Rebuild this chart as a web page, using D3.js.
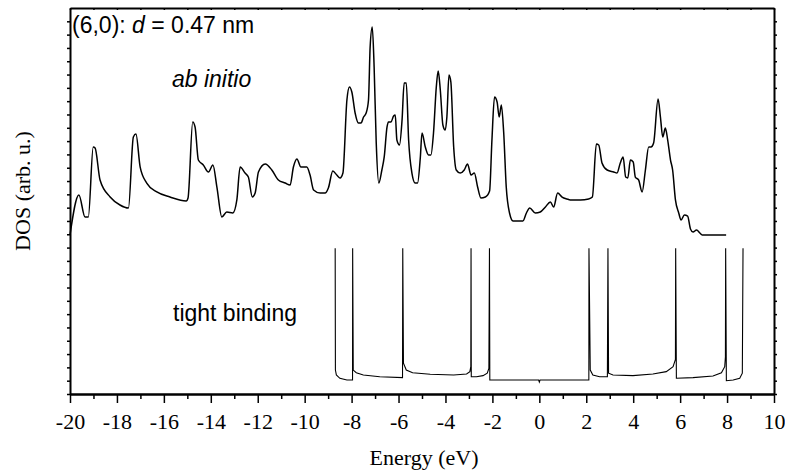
<!DOCTYPE html>
<html>
<head>
<meta charset="utf-8">
<script src="https://cdn.jsdelivr.net/npm/d3@7"></script>
<style>
  html, body { margin: 0; padding: 0; background: #fff; }
  svg { display: block; }
</style>
</head>
<body>
<svg id="chart" width="785" height="474"></svg>
<script>
// Ab initio DOS of the (6,0) tube (arbitrary units, shifted up)
const energyAb = [-20.00,-19.62,-19.36,-19.22,-19.01,-18.93,-18.72,-18.29,-17.87,-17.51,
  -17.30,-17.19,-17.01,-16.73,-16.30,-15.74,-15.05,-14.97,-14.77,-14.67,
  -14.53,-14.32,-14.10,-13.91,-13.74,-13.53,-13.32,-13.06,-12.89,-12.75,
  -12.54,-12.40,-12.23,-12.11,-11.97,-11.68,-11.40,-11.12,-10.83,-10.62,
  -10.48,-10.33,-10.16,-9.91,-9.77,-9.62,-9.34,-9.13,-8.99,-8.80,
  -8.63,-8.49,-8.37,-8.20,-8.09,-7.99,-7.85,-7.71,-7.60,-7.49,
  -7.38,-7.28,-7.21,-7.12,-7.04,-6.95,-6.84,-6.71,-6.61,-6.49,
  -6.43,-6.32,-6.21,-6.14,-6.07,-5.96,-5.85,-5.76,-5.67,-5.57,
  -5.43,-5.29,-5.19,-5.07,-5.00,-4.86,-4.72,-4.62,-4.51,-4.39,
  -4.31,-4.22,-4.11,-4.01,-3.94,-3.85,-3.77,-3.65,-3.54,-3.37,
  -3.20,-3.06,-2.91,-2.77,-2.63,-2.49,-2.30,-2.12,-2.02,-1.91,
  -1.80,-1.71,-1.62,-1.52,-1.41,-1.27,-1.12,-0.70,-0.55,-0.41,
  -0.17,0.04,0.26,0.47,0.61,0.78,0.97,1.18,1.32,1.75,
  2.10,2.26,2.43,2.53,2.67,2.89,3.17,3.31,3.45,3.57,
  3.68,3.77,3.88,4.00,4.09,4.23,4.38,4.52,4.66,4.76,
  4.87,5.06,5.16,5.26,5.37,5.47,5.59,5.68,5.80,5.94,
  6.04,6.18,6.32,6.44,6.55,6.70,6.84,6.94,7.96];
const dosAb = [11.95,14.95,13.30,13.30,18.56,18.48,16.08,14.80,14.20,13.97,
  19.31,19.53,17.05,15.85,15.18,14.80,14.50,14.73,20.44,20.06,
  17.58,17.21,16.68,17.21,15.55,13.30,13.67,13.60,14.58,17.05,
  16.60,16.30,14.80,15.10,16.68,17.28,16.83,16.08,15.85,15.70,
  17.05,17.66,17.05,17.05,16.45,15.33,15.10,15.10,15.48,16.75,
  16.45,16.23,16.60,22.09,23.07,22.69,21.11,20.36,20.36,20.81,
  21.11,22.09,26.07,27.57,24.57,18.86,15.85,16.83,17.81,20.06,
  20.44,20.44,20.89,20.96,19.08,18.71,20.59,23.37,23.37,19.08,
  16.60,15.85,15.85,17.81,19.61,18.56,17.96,17.96,19.61,23.07,
  24.27,22.84,20.21,19.83,20.81,23.97,23.44,18.56,16.83,16.60,
  16.83,17.28,16.45,16.60,15.55,14.73,14.80,15.25,19.08,22.31,
  21.94,20.81,21.71,19.68,15.55,13.60,13.00,13.00,13.60,13.97,
  13.60,13.67,14.05,14.43,14.05,15.10,14.80,14.65,14.58,14.58,
  14.65,14.80,18.78,18.71,17.36,16.83,16.68,16.60,17.36,17.81,
  16.30,16.23,17.58,17.43,16.30,16.08,15.18,16.83,18.56,18.56,
  18.86,22.16,20.81,19.31,19.98,19.08,17.58,16.83,14.58,13.60,
  13.07,13.45,13.37,12.40,12.17,12.32,12.10,11.95,11.95];

// Tight-binding DOS (van Hove spikes cut off at the top of the lower panel)
const energyTb = [-8.70,-8.69,-8.65,-8.50,-8.20,-7.96,-7.955,-7.93,-7.80,-7.50,
  -6.80,-5.83,-5.82,-5.79,-5.67,-5.40,-4.65,-3.65,-3.10,-2.96,
  -2.92,-2.91,-2.90,-2.68,-2.40,-2.22,-2.15,-2.125,-2.11,-0.03,
  0.00,0.03,2.11,2.115,2.17,2.28,2.57,2.90,2.924,2.95,
  3.14,3.99,4.84,5.41,5.70,5.80,5.81,5.84,6.55,7.40,
  7.76,7.90,7.93,7.94,7.97,8.26,8.54,8.65,8.68];
const dosTb = [10.95,1.80,1.43,1.18,1.05,1.05,10.95,1.80,1.60,1.43,
  1.30,1.23,10.95,2.31,1.80,1.60,1.48,1.43,1.50,1.68,
  2.05,10.95,1.30,1.30,1.38,1.56,1.93,10.95,1.05,1.05,
  0.90,1.05,1.05,10.95,1.80,1.43,1.30,1.30,10.95,1.56,
  1.43,1.38,1.50,1.68,2.05,2.60,10.95,1.18,1.23,1.35,
  1.60,2.05,2.80,10.95,1.00,1.05,1.18,1.56,10.95];

const xMajorTicks = [-20,-18,-16,-14,-12,-10,-8,-6,-4,-2,0,2,4,6,8,10];
const xTickLabels = ["-20","-18","-16","-14","-12","-10","-8","-6","-4","-2","0","2","4","6","8","10"];
const xMinorTicks = d3.range(-19, 10, 2);
const yTicks = d3.range(0, 29, 1);

const serif = "'Liberation Serif', 'Times New Roman', serif";
const sans = "'Liberation Sans', Arial, sans-serif";

const svg = d3.select("#chart");
const plotLeft = 70, plotRight = 774, plotTop = 8, plotBottom = 394;

const x = d3.scaleLinear().domain([-20, 10]).range([plotLeft, plotRight]);
const y = d3.scaleLinear().domain([0, 29]).range([plotBottom, plotTop]);

// curves
const smoothLine = d3.line().curve(d3.curveMonotoneX).x(d => x(d[0])).y(d => y(d[1]));
const stepLine = d3.line().x(d => x(d[0])).y(d => y(d[1]));
svg.append("path")
  .datum(d3.zip(energyAb, dosAb))
  .attr("d", smoothLine)
  .attr("fill", "none").attr("stroke", "#000").attr("stroke-width", 1.5)
  .attr("stroke-linejoin", "round");
svg.append("path")
  .datum(d3.zip(energyTb, dosTb))
  .attr("d", stepLine)
  .attr("fill", "none").attr("stroke", "#000").attr("stroke-width", 1.1);

// axes
function styleAxis(g) {
  g.selectAll(".domain").attr("stroke", "#000").attr("stroke-width", 2);
  g.selectAll(".tick line").attr("stroke", "#000").attr("stroke-width", 1.5);
}

// bottom: minor then major ticks with labels
svg.append("g").attr("transform", `translate(0,${plotBottom})`)
  .call(d3.axisBottom(x).tickValues(xMinorTicks).tickSize(5).tickSizeOuter(0).tickFormat(""))
  .call(styleAxis);
const gx = svg.append("g").attr("transform", `translate(0,${plotBottom})`)
  .call(d3.axisBottom(x).tickValues(xMajorTicks).tickSize(9).tickSizeOuter(0)
    .tickFormat((d, i) => xTickLabels[i]))
  .call(styleAxis);
gx.selectAll(".tick text")
  .attr("y", 35).attr("dy", null)
  .attr("font-family", serif).attr("font-size", 22).attr("fill", "#000");

// top: small inward ticks every 1 eV
svg.append("g").attr("transform", `translate(0,${plotTop})`)
  .call(d3.axisBottom(x).tickValues(d3.range(-20, 11, 1)).tickSize(2).tickSizeOuter(0).tickFormat(""))
  .call(styleAxis);

// left and right: small outward ticks
svg.append("g").attr("transform", `translate(${plotLeft},0)`)
  .call(d3.axisLeft(y).tickValues(yTicks).tickSize(3).tickSizeOuter(0).tickFormat(""))
  .call(styleAxis);
svg.append("g").attr("transform", `translate(${plotRight},0)`)
  .call(d3.axisRight(y).tickValues(yTicks).tickSize(3).tickSizeOuter(0).tickFormat(""))
  .call(styleAxis);

// axis titles
svg.append("text")
  .attr("x", 424).attr("y", 465).attr("text-anchor", "middle")
  .attr("font-family", serif).attr("font-size", 22)
  .text("Energy (eV)");
svg.append("text")
  .attr("transform", "translate(30,191) rotate(-90)")
  .attr("text-anchor", "middle")
  .attr("font-family", serif).attr("font-size", 22)
  .text("DOS (arb. u.)");

// annotations
const title = svg.append("text")
  .attr("x", 72).attr("y", 33)
  .attr("font-family", sans).attr("font-size", 23);
title.append("tspan").text("(6,0): ");
title.append("tspan").attr("font-style", "italic").text("d");
title.append("tspan").text(" = 0.47 nm");

svg.append("text")
  .attr("x", 172).attr("y", 87)
  .attr("font-family", sans).attr("font-size", 23).attr("font-style", "italic")
  .text("ab initio");

svg.append("text")
  .attr("x", 173).attr("y", 321)
  .attr("font-family", sans).attr("font-size", 23)
  .text("tight binding");
</script>
</body>
</html>
